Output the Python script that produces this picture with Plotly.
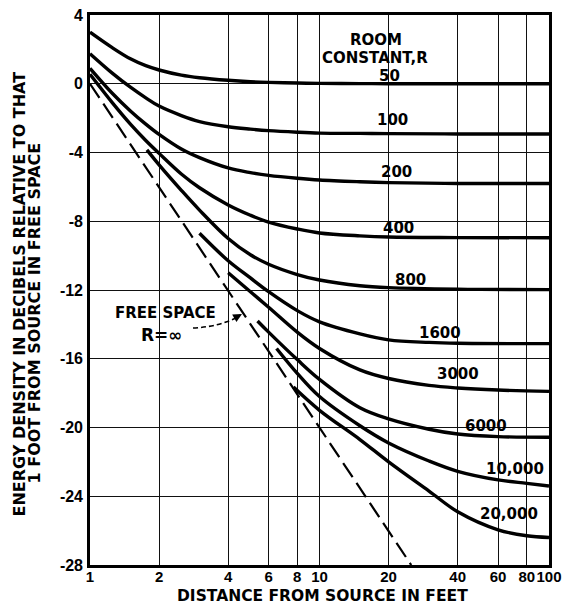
import numpy as np
import plotly.graph_objects as go

# ---------------- data ----------------
X_FULL = [1, 1.25, 1.5, 1.75, 2, 2.5, 3, 4, 5, 6, 8, 10, 15, 20, 40, 100]
R50 = [3.0, 2.1, 1.45, 1.05, 0.8, 0.5, 0.35, 0.2, 0.12, 0.08, 0.04, 0.02, 0.01, 0.0, 0.0, 0.0]
R100 = [1.75, 0.62, -0.2, -0.82, -1.3, -1.85, -2.2, -2.5, -2.64, -2.73, -2.82, -2.87, -2.89, -2.9, -2.92, -2.92]
R200 = [0.9, -0.55, -1.58, -2.35, -2.95, -3.8, -4.3, -4.9, -5.17, -5.33, -5.5, -5.6, -5.7, -5.75, -5.8, -5.8]
R400 = [0.55, -1.1, -2.35, -3.3, -4.05, -5.25, -6.05, -7.05, -7.65, -8.05, -8.45, -8.68, -8.85, -8.92, -8.95, -8.96]

X_800 = [1.77, 2, 2.5, 3, 4, 5, 6, 8, 10, 15, 20, 40, 100]
R800 = [-3.85, -4.72, -6.2, -7.35, -9.0, -9.95, -10.5, -11.1, -11.42, -11.75, -11.86, -11.95, -11.98]

X_1600 = [3.0, 4, 5, 6, 8, 10, 15, 20, 30, 40, 100]
R1600 = [-8.7, -10.3, -11.3, -12.1, -13.2, -13.85, -14.55, -14.9, -15.05, -15.1, -15.12]

X_3000 = [4.0, 5, 6, 8, 10, 15, 20, 30, 40, 60, 100]
R3000 = [-11.0, -12.1, -13.0, -14.45, -15.4, -16.65, -17.15, -17.55, -17.7, -17.82, -17.9]

X_6000 = [5.37, 6, 8, 10, 15, 20, 30, 40, 60, 100]
R6000 = [-13.8, -14.45, -16.05, -17.2, -18.85, -19.5, -20.1, -20.38, -20.53, -20.57]

X_10000 = [6.5, 8, 10, 15, 20, 30, 40, 60, 80, 100]
R10000 = [-15.4, -16.85, -18.2, -19.9, -20.9, -21.95, -22.55, -23.05, -23.25, -23.4]

X_20000 = [7.7, 10, 15, 20, 30, 40, 60, 80, 100]
R20000 = [-17.65, -19.0, -20.7, -22.0, -23.7, -24.9, -25.95, -26.3, -26.4]

X_FREE = [1, 25.1]
FREE = [0, -28]

CURVE_LABELS = ["50", "100", "200", "400", "800", "1600", "3000", "6000", "10,000", "20,000"]
X_TICKS = [1, 2, 4, 6, 8, 10, 20, 40, 60, 80, 100]
X_TICK_LABELS = ["1", "2", "4", "6", "8", "10", "20", "40", "60", "80", "100"]
Y_TICKS = [-28, -24, -20, -16, -12, -8, -4, 0, 4]
Y_TICK_LABELS = ["-28", "-24", "-20", "-16", "-12", "-8", "-4", "0", "4"]

# ---------------- layout geometry ----------------
W, H = 568, 607
L, R, T, B = 90, 19, 15, 42
PW, PH = W - L - R, H - T - B


def px(x):
    return (x - L) / PW


def py(y):
    return (H - B - y) / PH


FONT = "DejaVu Sans"
TICK_FONT = "Liberation Sans"
fig = go.Figure()

series = [
    (X_FULL, R50), (X_FULL, R100), (X_FULL, R200), (X_FULL, R400), (X_800, R800),
    (X_1600, R1600), (X_3000, R3000), (X_6000, R6000), (X_10000, R10000), (X_20000, R20000),
]
for (xs, ys), name in zip(series, CURVE_LABELS):
    fig.add_trace(go.Scatter(
        x=xs, y=ys, mode="lines", name="R=" + name,
        line=dict(color="black", width=3.4, shape="spline", smoothing=1.0),
        hoverinfo="skip"))

fig.add_trace(go.Scatter(
    x=X_FREE, y=FREE, mode="lines", name="free space",
    line=dict(color="black", width=2.2, dash="17px,7px"), hoverinfo="skip"))

# label positions in pixel coordinates (center)
label_pos = [(389, 76), (392.5, 120), (396, 171.5), (398.5, 227.5), (410, 280),
             (439.5, 332.7), (458.3, 374), (485.5, 426), (515, 468.8), (509.3, 513.5)]

shapes = []
annotations = []
LABEL_FONT = dict(family=FONT, size=15, color="black", weight="bold")


def white_box(x0, y0, x1, y1):
    shapes.append(dict(type="rect", xref="paper", yref="paper", layer="between",
                       x0=px(x0), x1=px(x1), y0=py(y1), y1=py(y0),
                       fillcolor="white", line=dict(width=0)))


for txt, (cx, cy) in zip(CURVE_LABELS, label_pos):
    w = 10.5 * sum(1 for c in txt if c.isdigit()) + 6 * txt.count(",")
    white_box(cx - w / 2 - 5, cy - 8, cx + w / 2 + 5, cy + 7)
    annotations.append(dict(text=txt, x=px(cx), y=py(cy), xref="paper", yref="paper",
                            showarrow=False, xanchor="center", yanchor="middle",
                            font=LABEL_FONT))

# "ROOM CONSTANT, R" header
white_box(312, 27, 440, 82)
annotations.append(dict(text="ROOM", x=px(376), y=py(39.5), xref="paper",
                        yref="paper", showarrow=False, xanchor="center", yanchor="middle",
                        font=LABEL_FONT))
annotations.append(dict(text="CONSTANT,R", x=px(375), y=py(58), xref="paper",
                        yref="paper", showarrow=False, xanchor="center", yanchor="middle",
                        font=LABEL_FONT))

# FREE SPACE label
white_box(100, 291, 222, 355)
annotations.append(dict(text="FREE SPACE", x=px(165), y=py(313), xref="paper", yref="paper",
                        showarrow=False, xanchor="center", yanchor="middle",
                        font=dict(family=FONT, size=15, color="black", weight="bold")))
annotations.append(dict(text="R=∞", x=px(161.7), y=py(335), xref="paper", yref="paper",
                        showarrow=False, xanchor="center", yanchor="middle",
                        font=dict(family=FONT, size=17, color="black", weight="bold")))

# dashed pointer from label to free-space line
shapes.append(dict(type="path", xref="paper", yref="paper", layer="above",
                   path=f"M {px(193)},{py(328)} Q {px(218)},{py(327)} {px(238)},{py(317)}",
                   line=dict(color="black", width=1.6, dash="5px,3px")))
annotations.append(dict(text="", x=px(242), y=py(314), xref="paper", yref="paper",
                        showarrow=True, ax=-9, ay=5, arrowhead=2, arrowsize=1.1,
                        arrowwidth=1.6, arrowcolor="black", standoff=0))

# axis titles
TITLE_FONT = dict(family=FONT, size=16, color="black", weight="bold")
annotations.append(dict(text="ENERGY DENSITY IN DECIBELS RELATIVE TO THAT", x=px(19), y=py(294.5),
                        xref="paper", yref="paper", showarrow=False, textangle=-90,
                        xanchor="center", yanchor="middle", font=TITLE_FONT))
annotations.append(dict(text="1 FOOT FROM SOURCE IN FREE SPACE", x=px(34.5), y=py(313),
                        xref="paper", yref="paper", showarrow=False, textangle=-90,
                        xanchor="center", yanchor="middle", font=TITLE_FONT))
annotations.append(dict(text="DISTANCE FROM SOURCE IN FEET", x=px(322), y=py(607),
                        xref="paper", yref="paper", showarrow=False,
                        xanchor="center", yanchor="bottom",
                        font=dict(family=FONT, size=15.5, color="black", weight="bold")))

axis_common = dict(showgrid=True, gridcolor="#111", gridwidth=1.3, zeroline=False,
                   showline=True, linecolor="black", linewidth=2.6, mirror=True,
                   ticks="", ticklen=0)

fig.update_layout(
    width=W, height=H,
    margin=dict(l=L, r=R, t=T, b=B, autoexpand=False),
    paper_bgcolor="white", plot_bgcolor="white",
    showlegend=False,
    xaxis=dict(type="log", range=[0, 2], tickvals=X_TICKS, ticktext=X_TICK_LABELS,
               tickangle=0, ticklabelstandoff=-4,
               tickfont=dict(family=TICK_FONT, size=15, color="black", weight="bold"),
               **axis_common),
    yaxis=dict(range=[-28, 4], tickvals=Y_TICKS, ticktext=Y_TICK_LABELS,
               ticklabelstandoff=1,
               tickfont=dict(family=TICK_FONT, size=16, color="black", weight="bold"),
               **axis_common),
    shapes=shapes,
    annotations=annotations,
)

fig.write_html("out.html")
